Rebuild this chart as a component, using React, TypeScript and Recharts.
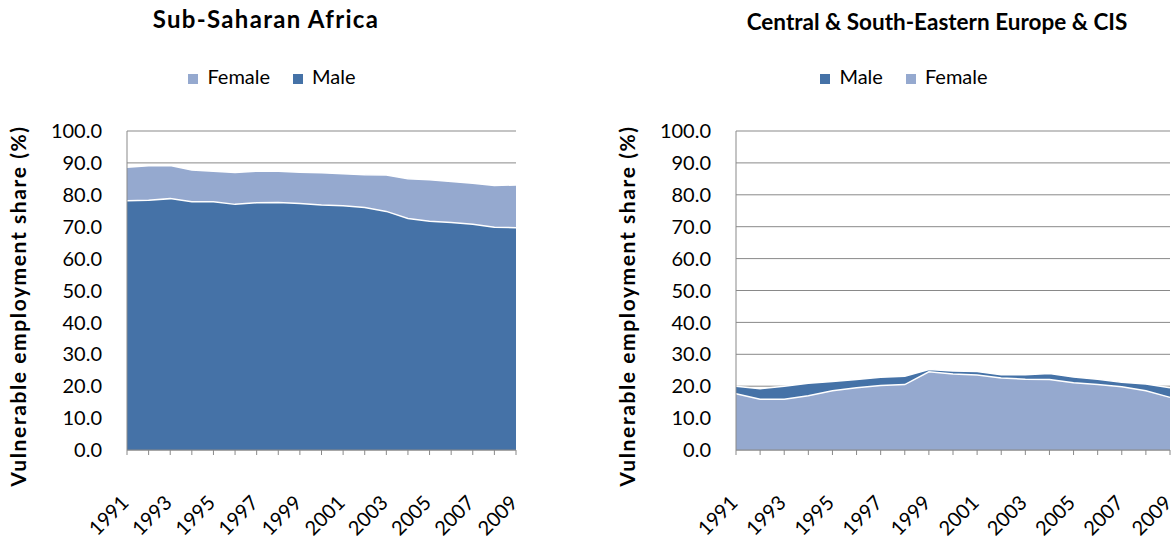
import React from "react";
import { Area, AreaChart, CartesianGrid, Legend, XAxis, YAxis } from "recharts";

const years = [
  "1991", "1992", "1993", "1994", "1995", "1996", "1997", "1998", "1999", "2000",
  "2001", "2002", "2003", "2004", "2005", "2006", "2007", "2008", "2009",
];

// Sub-Saharan Africa
const ssaFemale = [88.6, 89.1, 89.2, 87.8, 87.4, 87.0, 87.4, 87.4, 87.1, 86.9, 86.6, 86.3, 86.2, 85.0, 84.7, 84.2, 83.6, 82.9, 83.1];
const ssaMale = [78.1, 78.3, 78.8, 77.8, 77.8, 77.0, 77.5, 77.6, 77.3, 76.8, 76.6, 76.0, 74.8, 72.6, 71.7, 71.3, 70.8, 69.8, 69.7];

// Central & South-Eastern Europe & CIS
const ceeMale = [20.0, 19.2, 20.0, 20.9, 21.5, 22.1, 22.8, 23.1, 25.2, 24.8, 24.6, 23.6, 23.6, 24.0, 22.9, 22.2, 21.2, 20.7, 19.5];
const ceeFemale = [17.6, 15.9, 15.9, 17.0, 18.6, 19.5, 20.2, 20.5, 24.5, 23.8, 23.5, 22.6, 22.2, 22.1, 21.1, 20.5, 19.8, 18.6, 16.5];

const yTicks = [0, 10, 20, 30, 40, 50, 60, 70, 80, 90, 100];
const labelledYears = years.filter((_, i) => i % 2 === 0);

const DARK = "#4572A7";
const LIGHT = "#95A9CF";
const GRID = "#898989";
const FONT = "Lato, 'Open Sans', sans-serif";
const Y_TITLE = "Vulnerable employment share (%)";

const H = 554;
const TOP = 131;
const BOTTOM = 74;
const PLOT_BOTTOM = H - BOTTOM;

const ssaData = years.map((year, i) => ({ year, female: ssaFemale[i], male: ssaMale[i] }));
const ceeData = years.map((year, i) => ({ year, male: ceeMale[i], female: ceeFemale[i] }));

const XTick = (props: any) => {
  const { x, payload } = props;
  if (!labelledYears.includes(payload.value)) return <g />;
  const ax = x + 3;
  const ay = PLOT_BOTTOM + 24;
  return (
    <text
      x={ax}
      y={ay}
      transform={`rotate(-45, ${ax}, ${ay})`}
      textAnchor="end"
      fontFamily={FONT}
      fontSize={20}
      fill="#000"
    >
      {payload.value}
    </text>
  );
};

interface Series {
  key: string;
  name: string;
  color: string;
}

const makeLegend = (series: Series[]) => () => (
  <div style={{ display: "flex", justifyContent: "center", gap: 23, fontFamily: FONT, fontSize: 20, color: "#000", lineHeight: "24px" }}>
    {series.map((s) => (
      <span key={s.key} style={{ display: "flex", alignItems: "flex-start" }}>
        <span style={{ width: 10, height: 10, background: s.color, marginRight: 9, marginTop: 10 }} />
        {s.name}
      </span>
    ))}
  </div>
);

interface PanelProps {
  title: string;
  titleSize: number;
  titleSpacing: number;
  titleTop: number;
  data: Record<string, unknown>[];
  series: Series[];
  left: number;
  width: number;
  axisWidth: number;
  rightMargin: number;
  titleCenter: number;
  legendCenter: number;
}

function Panel(p: PanelProps) {
  const { title, data, series, left, width, axisWidth, rightMargin, titleCenter, legendCenter } = p;
  return (
    <div style={{ position: "absolute", left, top: 0, width, height: H }}>
      <div
        style={{
          position: "absolute",
          left: titleCenter - 250,
          width: 500,
          top: p.titleTop,
          textAlign: "center",
          fontFamily: FONT,
          fontWeight: 700,
          fontSize: p.titleSize,
          letterSpacing: p.titleSpacing,
          lineHeight: 1.2,
        }}
      >
        {title}
      </div>
      <div
        style={{
          position: "absolute",
          left: axisWidth - 110,
          top: 306,
          transform: "translate(-50%, -50%) rotate(-90deg)",
          whiteSpace: "nowrap",
          fontFamily: FONT,
          fontWeight: 700,
          fontSize: 21,
          letterSpacing: 1.6,
        }}
      >
        {Y_TITLE}
      </div>
      <AreaChart width={width} height={H} data={data} margin={{ top: TOP, right: rightMargin, bottom: BOTTOM, left: 0 }}>
        <CartesianGrid vertical={false} stroke={GRID} strokeWidth={1} />
        <XAxis
          dataKey="year"
          interval={0}
          tick={<XTick />}
          tickSize={5}
          axisLine={{ stroke: GRID }}
          tickLine={{ stroke: GRID }}
        />
        <YAxis
          width={axisWidth}
          domain={[0, 100]}
          ticks={yTicks}
          tickFormatter={(v: number) => v.toFixed(1)}
          tickLine={false}
          tickMargin={19}
          axisLine={{ stroke: GRID }}
          tick={{ fill: "#000", fontSize: 20, fontFamily: FONT }}
        />
        <Legend
          verticalAlign="middle"
          align="center"
          content={makeLegend(series)}
          wrapperStyle={{ top: 64, left: legendCenter - 150, width: 300 }}
        />
        {series.map((s) => (
          <Area
            key={s.key}
            type="linear"
            dataKey={s.key}
            name={s.name}
            fill={s.color}
            fillOpacity={1}
            stroke="#fff"
            strokeWidth={1.5}
            legendType="square"
            isAnimationActive={false}
          />
        ))}
      </AreaChart>
    </div>
  );
}

export default function App() {
  return (
    <div style={{ position: "absolute", left: 0, top: 0, width: 1174, height: H, background: "#fff", overflow: "hidden" }}>
      <Panel
        title="Sub-Saharan Africa"
        titleSize={24}
        titleSpacing={1.3}
        titleTop={5}
        data={ssaData}
        series={[
          { key: "female", name: "Female", color: LIGHT },
          { key: "male", name: "Male", color: DARK },
        ]}
        left={0}
        width={540}
        axisWidth={127}
        rightMargin={24}
        titleCenter={266}
        legendCenter={272}
      />
      <Panel
        title="Central & South-Eastern Europe & CIS"
        titleSize={22.5}
        titleSpacing={0}
        titleTop={8}
        data={ceeData}
        series={[
          { key: "male", name: "Male", color: DARK },
          { key: "female", name: "Female", color: LIGHT },
        ]}
        left={574}
        width={600}
        axisWidth={162}
        rightMargin={4}
        titleCenter={363}
        legendCenter={330}
      />
    </div>
  );
}
